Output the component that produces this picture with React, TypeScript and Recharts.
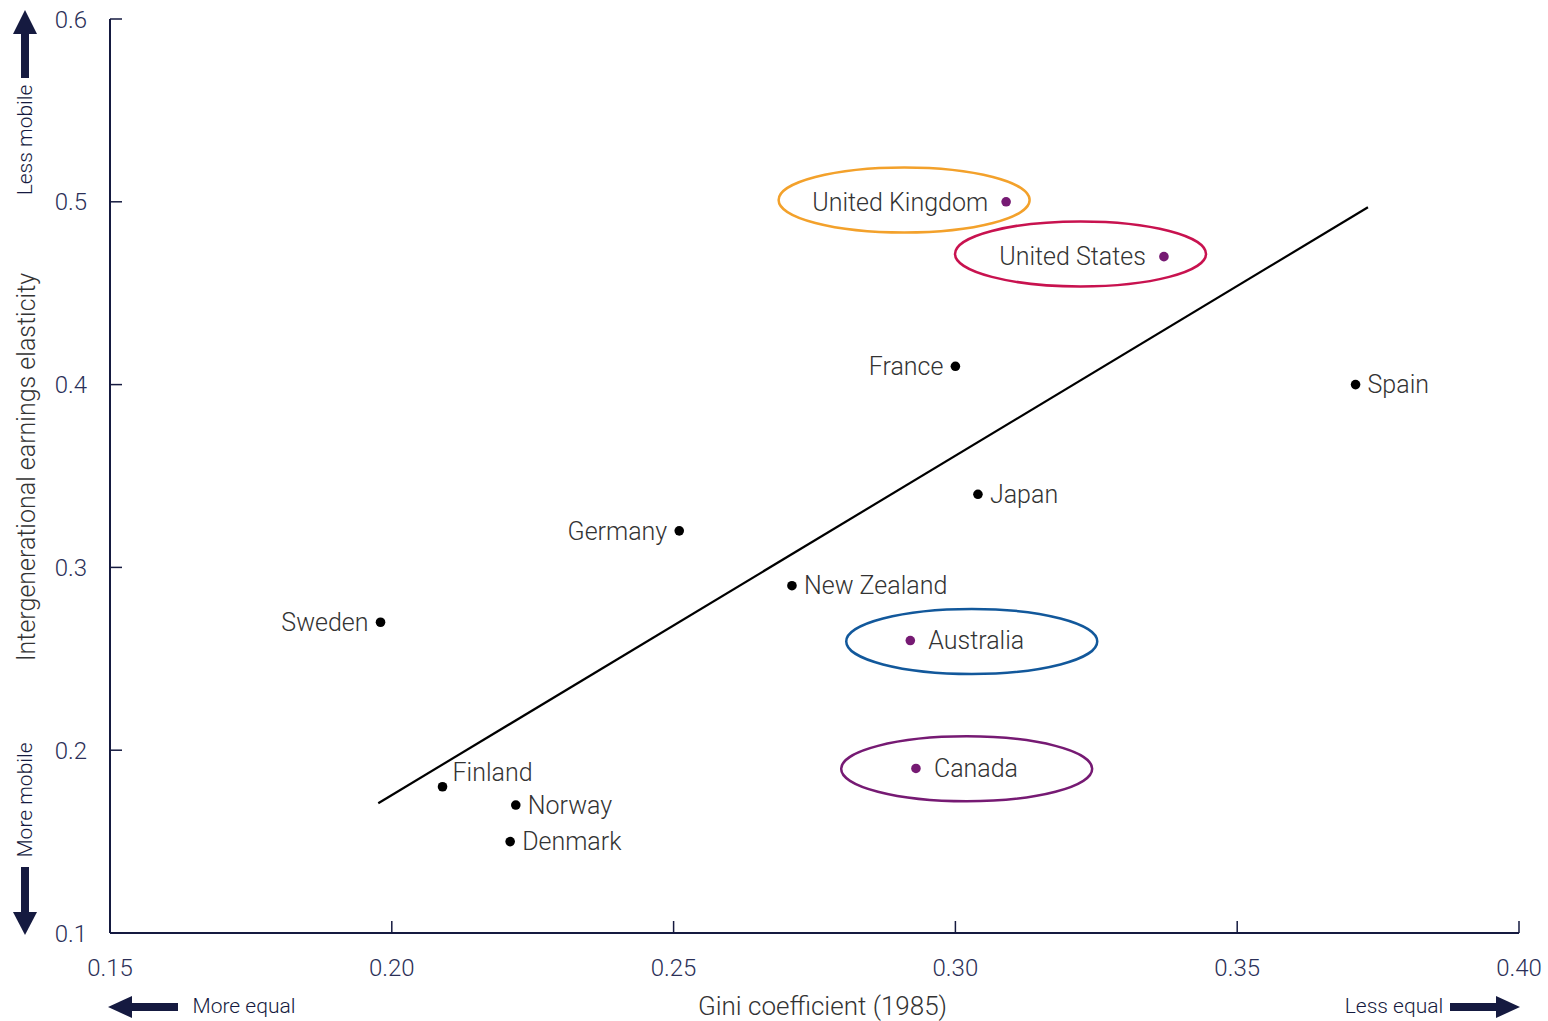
import React from "react";
import {
  ScatterChart,
  Scatter,
  XAxis,
  YAxis,
  ReferenceLine,
  ReferenceDot,
  Label,
} from "recharts";

// Gini coefficient (1985) vs intergenerational earnings elasticity
const countries = [
  "United Kingdom",
  "United States",
  "France",
  "Spain",
  "Japan",
  "Germany",
  "New Zealand",
  "Sweden",
  "Australia",
  "Canada",
  "Finland",
  "Norway",
  "Denmark",
];
const gini = [0.309, 0.337, 0.3, 0.371, 0.304, 0.251, 0.271, 0.198, 0.292, 0.293, 0.209, 0.222, 0.221];
const elasticity = [0.5, 0.47, 0.41, 0.4, 0.34, 0.32, 0.29, 0.27, 0.26, 0.19, 0.18, 0.17, 0.15];

const highlighted = ["United Kingdom", "United States", "Australia", "Canada"];
const labelOnLeft = ["United Kingdom", "United States", "France", "Germany", "Sweden"];
const labelAbove = ["Finland"];

// fitted trend line ends
const trendX = [0.1976, 0.3732];
const trendY = [0.171, 0.497];

// circled countries: ring centres
const ringCountry = ["United Kingdom", "United States", "Australia", "Canada"];
const ringX = [0.2909, 0.3222, 0.3029, 0.302];
const ringY = [0.501, 0.4715, 0.2595, 0.1898];
const ringColor: Record<string, string> = {
  "United Kingdom": "#f3a12b",
  "United States": "#c8124f",
  Australia: "#12589b",
  Canada: "#761a73",
};

const xTicks = [0.15, 0.2, 0.25, 0.3, 0.35, 0.4];
const yTicks = [0.1, 0.2, 0.3, 0.4, 0.5, 0.6];

const FONT = "Roboto, 'Liberation Sans', sans-serif";
const NAVY = "#151a40";
const TICK_TEXT = "#2b3058";
const LABEL_TEXT = "#333333";

const rows = countries.map((name, i) => ({ name, gini: gini[i], elasticity: elasticity[i] }));
const plainRows = rows.filter((r) => !highlighted.includes(r.name));
const starRows = rows.filter((r) => highlighted.includes(r.name));

function makeDot(fill: string, gap: number) {
  return (props: any) => {
    const { cx, cy, payload } = props;
    const left = labelOnLeft.includes(payload.name);
    const above = labelAbove.includes(payload.name);
    return (
      <g>
        <circle cx={cx} cy={cy} r={4.8} fill={fill} />
        <text
          x={left ? cx - gap : cx + (above ? 10 : gap)}
          y={above ? cy - 15 : cy}
          dy="0.35em"
          textAnchor={left ? "end" : "start"}
          fontFamily={FONT}
          fontWeight={300}
          fontSize={25}
          fill={LABEL_TEXT}
        >
          {payload.name}
        </text>
      </g>
    );
  };
}

const Ring = (props: any) => {
  const { cx, cy, country } = props;
  return (
    <ellipse
      cx={cx}
      cy={cy}
      rx={125.5}
      ry={32.5}
      fill="none"
      stroke={ringColor[country]}
      strokeWidth={2.5}
    />
  );
};

function Overlay() {
  const txt = { fontFamily: FONT, fontWeight: 300, fontSize: 21, fill: NAVY } as const;
  return (
    <svg
      width={1548}
      height={1021}
      style={{ position: "absolute", left: 0, top: 0, pointerEvents: "none" }}
    >
      {/* up arrow */}
      <rect x={21} y={32} width={8} height={46} fill={NAVY} />
      <polygon points="25,10 37,34 13,34" fill={NAVY} />
      <text {...txt} x={25} y={140} dy="0.35em" textAnchor="middle" transform="rotate(-90 25 140)">
        Less mobile
      </text>
      {/* down arrow */}
      <rect x={21} y={867} width={8} height={47} fill={NAVY} />
      <polygon points="25,935 37,912 13,912" fill={NAVY} />
      <text {...txt} x={25} y={800} dy="0.35em" textAnchor="middle" transform="rotate(-90 25 800)">
        More mobile
      </text>
      {/* left arrow */}
      <rect x={130} y={1003} width={48} height={8} fill={NAVY} />
      <polygon points="108,1007 132,996 132,1018" fill={NAVY} />
      <text {...txt} x={244} y={1006} dy="0.35em" textAnchor="middle">
        More equal
      </text>
      {/* right arrow */}
      <rect x={1450} y={1003} width={48} height={8} fill={NAVY} />
      <polygon points="1520,1007 1496,996 1496,1018" fill={NAVY} />
      <text {...txt} x={1394} y={1006} dy="0.35em" textAnchor="middle">
        Less equal
      </text>
    </svg>
  );
}

export default function App() {
  return (
    <div style={{ position: "absolute", left: 0, top: 0, width: 1548, height: 1021, background: "#fff" }}>
      <ScatterChart
        width={1548}
        height={1021}
        margin={{ top: 19, right: 29, bottom: 0, left: 0 }}
      >
        <XAxis
          type="number"
          dataKey="gini"
          domain={[0.15, 0.4]}
          ticks={xTicks}
          tickFormatter={(v: number) => v.toFixed(2)}
          height={88}
          stroke={NAVY}
          strokeWidth={2}
          tickSize={-12}
          tickMargin={38}
          tickLine={{ stroke: NAVY, strokeWidth: 1.5 }}
          tick={{ fill: TICK_TEXT, fontSize: 24, fontFamily: FONT, fontWeight: 300 }}
          allowDataOverflow
        >
          <Label
            content={(p: any) => (
              <text
                x={p.viewBox.x + p.viewBox.width / 2 + 8}
                y={1006}
                dy="0.35em"
                textAnchor="middle"
                fontFamily={FONT}
                fontWeight={300}
                fontSize={26}
                fill={LABEL_TEXT}
              >
                Gini coefficient (1985)
              </text>
            )}
          />
        </XAxis>
        <YAxis
          type="number"
          dataKey="elasticity"
          domain={[0.1, 0.6]}
          ticks={yTicks}
          tickFormatter={(v: number) => v.toFixed(1)}
          width={110}
          stroke={NAVY}
          strokeWidth={2}
          tickSize={-12}
          tickMargin={35}
          tickLine={{ stroke: NAVY, strokeWidth: 1.5 }}
          tick={{ fill: TICK_TEXT, fontSize: 24, fontFamily: FONT, fontWeight: 300 }}
          allowDataOverflow
        >
          <Label
            content={(p: any) => {
              const cy = p.viewBox.y + p.viewBox.height / 2 - 9;
              return (
                <text
                  x={26}
                  y={cy}
                  dy="0.35em"
                  textAnchor="middle"
                  transform={`rotate(-90 26 ${cy})`}
                  fontFamily={FONT}
                  fontWeight={300}
                  fontSize={25}
                  fill={LABEL_TEXT}
                >
                  Intergenerational earnings elasticity
                </text>
              );
            }}
          />
        </YAxis>
        <ReferenceLine
          segment={[
            { x: trendX[0], y: trendY[0] },
            { x: trendX[1], y: trendY[1] },
          ]}
          stroke="#000"
          strokeWidth={2.2}
        />
        {ringCountry.map((c, i) => (
          <ReferenceDot
            key={c}
            x={ringX[i]}
            y={ringY[i]}
            shape={(p: any) => <Ring {...p} country={c} />}
          />
        ))}
        <Scatter data={plainRows} shape={makeDot("#000", 12)} isAnimationActive={false} />
        <Scatter data={starRows} shape={makeDot("#761a73", 18)} isAnimationActive={false} />
      </ScatterChart>
      <Overlay />
    </div>
  );
}
